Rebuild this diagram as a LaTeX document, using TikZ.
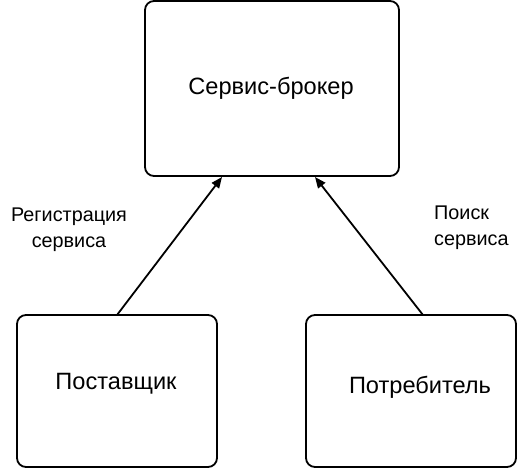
\documentclass[tikz,border=0pt]{standalone}
\usepackage{fontspec}
\setmainfont{Liberation Sans}
\usetikzlibrary{arrows.meta}
\begin{document}
\begin{tikzpicture}[x=1pt,y=-1pt,
  boxst/.style={draw,line width=1.8pt,rounded corners=9pt,fill=white},
  boxtext/.style={font=\fontsize{23.6}{28}\selectfont,inner sep=0pt},
  lbl/.style={font=\fontsize{19.8}{26}\selectfont,inner sep=0pt},
  conn/.style={line width=1.8pt,-{Triangle[length=11pt,width=9pt]}}]
\useasboundingbox (0,0) rectangle (518,469);
\fill[white] (0,0) rectangle (518,469);
\node[boxst,minimum width=254pt,minimum height=175pt] (broker) at (272,88.5) {};
\node[boxst,minimum width=200pt,minimum height=152pt] (prov) at (117,391) {};
\node[boxst,minimum width=210pt,minimum height=152pt] (cons) at (411,391) {};
\node[boxtext] (tb) at (271,88) {Сервис-брокер};
\node[boxtext] (tp) at (116,384) {Поставщик};
\node[boxtext] (tc) at (420,387) {Потребитель};
\coordinate (a1) at (117,315);
\coordinate (a2) at (222,177);
\coordinate (b1) at (423,315);
\coordinate (b2) at (315,177);
\draw[conn] (a1) -- (a2);
\draw[conn] (b1) -- (b2);
\node[lbl,align=center] (l1) at (69,230) {Регистрация\\сервиса};
\node[lbl,align=left,anchor=west] (l2) at (434,228) {Поиск\\сервиса};
\end{tikzpicture}
\end{document}
